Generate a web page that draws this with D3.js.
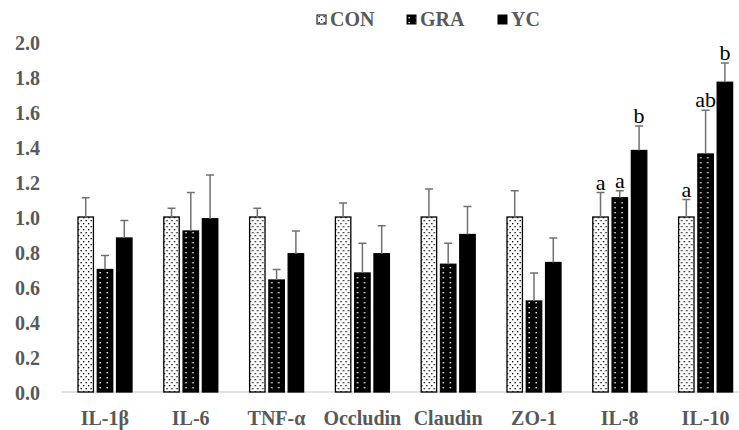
<!DOCTYPE html>
<html>
<head>
<meta charset="utf-8">
<script src="https://cdn.jsdelivr.net/npm/d3@7"></script>
<style>
  html, body { margin: 0; padding: 0; background: #fff; }
  svg { display: block; }
</style>
</head>
<body>
<svg id="chart" width="739" height="430"></svg>
<script>
// data
let categories = ["IL-1β", "IL-6", "TNF-α", "Occludin", "Claudin", "ZO-1", "IL-8", "IL-10"];
let seriesNames = ["CON", "GRA", "YC"];
let conValues = [1.00, 1.00, 1.00, 1.00, 1.00, 1.00, 1.00, 1.00];
let graValues = [0.70, 0.92, 0.64, 0.68, 0.73, 0.52, 1.11, 1.36];
let ycValues  = [0.88, 0.99, 0.79, 0.79, 0.90, 0.74, 1.38, 1.77];
let conErr = [0.11, 0.05, 0.05, 0.08, 0.16, 0.15, 0.14, 0.10];
let graErr = [0.08, 0.22, 0.06, 0.17, 0.12, 0.16, 0.04, 0.25];
let ycErr  = [0.10, 0.25, 0.13, 0.16, 0.16, 0.14, 0.14, 0.11];
let conLetters = ["", "", "", "", "", "", "a", "a"];
let graLetters = ["", "", "", "", "", "", "a", "ab"];
let ycLetters  = ["", "", "", "", "", "", "b", "b"];
let yTicks = [0, 0.2, 0.4, 0.6, 0.8, 1.0, 1.2, 1.4, 1.6, 1.8, 2.0];

let textColor = "#595959";
let serif = "'Liberation Serif', 'Times New Roman', serif";

let svg = d3.select("#chart");

// patterns for the two dotted series
let defs = svg.append("defs");
let pCon = defs.append("pattern")
    .attr("id", "patCon")
    .attr("patternUnits", "userSpaceOnUse")
    .attr("width", 5).attr("height", 6);
pCon.append("rect").attr("width", 5).attr("height", 6).style("fill", "#fff");
pCon.append("rect").attr("x", 1).attr("y", 1).attr("width", 1.3).attr("height", 1.3).style("fill", "#000");
pCon.append("rect").attr("x", 3.5).attr("y", 4).attr("width", 1.3).attr("height", 1.3).style("fill", "#000");

let pGra = defs.append("pattern")
    .attr("id", "patGra")
    .attr("patternUnits", "userSpaceOnUse")
    .attr("width", 7).attr("height", 5);
pGra.append("rect").attr("width", 7).attr("height", 5).style("fill", "#000");
pGra.append("rect").attr("x", 2.5).attr("y", 2).attr("width", 1.4).attr("height", 1.4).style("fill", "#fff");

let fills = { CON: "url(#patCon)", GRA: "url(#patGra)", YC: "#000" };

let rows = categories.map((c, i) => ({
    cat: c,
    bars: [
        { s: "CON", v: conValues[i], e: conErr[i], t: conLetters[i] },
        { s: "GRA", v: graValues[i], e: graErr[i], t: graLetters[i] },
        { s: "YC",  v: ycValues[i],  e: ycErr[i],  t: ycLetters[i] }
    ]
}));

let x0 = d3.scaleBand()
    .domain(categories)
    .range([62, 62 + 85.8 * categories.length])
    .padding(0);
let x1 = d3.scaleBand()
    .domain(seriesNames)
    .range([16, 70])
    .paddingInner(0.2);
let y = d3.scaleLinear()
    .domain([0, 2])
    .range([392, 42]);

// y tick labels only (no axis line)
let yAxis = svg.append("g")
    .attr("transform", "translate(42,0)")
    .call(d3.axisLeft(y).tickValues(yTicks).tickFormat(d3.format(".1f")).tickSize(0).tickPadding(2));
yAxis.select(".domain").remove();
yAxis.selectAll("text")
    .attr("dy", "0.38em")
    .style("font-family", serif)
    .style("font-weight", "bold")
    .style("font-size", "20px")
    .style("fill", textColor);

// baseline
svg.append("line")
    .attr("x1", 62).attr("x2", 739)
    .attr("y1", y(0)).attr("y2", y(0))
    .style("stroke", "#d9d9d9")
    .style("stroke-width", 1.5);

let groups = svg.selectAll(".grp")
    .data(rows)
    .enter()
    .append("g")
    .attr("class", "grp")
    .attr("transform", d => "translate(" + x0(d.cat) + ",0)");

// bars
groups.selectAll(".bar")
    .data(d => d.bars)
    .enter()
    .append("rect")
    .attr("class", "bar")
    .attr("x", d => x1(d.s))
    .attr("y", d => y(d.v))
    .attr("width", x1.bandwidth())
    .attr("height", d => y(0) - y(d.v))
    .style("fill", d => fills[d.s])
    .style("stroke", "#000")
    .style("stroke-width", 1.3);

// error bars
groups.selectAll(".err")
    .data(d => d.bars)
    .enter()
    .append("line")
    .attr("x1", d => x1(d.s) + x1.bandwidth() / 2)
    .attr("x2", d => x1(d.s) + x1.bandwidth() / 2)
    .attr("y1", d => y(d.v))
    .attr("y2", d => y(d.v + d.e))
    .style("stroke", "#707070")
    .style("stroke-width", 1.5);
groups.selectAll(".cap")
    .data(d => d.bars)
    .enter()
    .append("line")
    .attr("x1", d => x1(d.s) + x1.bandwidth() / 2 - 4)
    .attr("x2", d => x1(d.s) + x1.bandwidth() / 2 + 4)
    .attr("y1", d => y(d.v + d.e))
    .attr("y2", d => y(d.v + d.e))
    .style("stroke", "#707070")
    .style("stroke-width", 1.5);

// significance letters
groups.selectAll(".sig")
    .data(d => d.bars.filter(b => b.t !== ""))
    .enter()
    .append("text")
    .attr("x", d => x1(d.s) + x1.bandwidth() / 2)
    .attr("y", d => y(d.v + d.e) - 3)
    .attr("text-anchor", "middle")
    .text(d => d.t)
    .style("font-family", serif)
    .style("font-size", "22px")
    .style("fill", "#000");

// category labels
svg.selectAll(".cat")
    .data(categories)
    .enter()
    .append("text")
    .attr("x", d => x0(d) + x0.bandwidth() / 2)
    .attr("y", 425)
    .attr("text-anchor", "middle")
    .text(d => d)
    .style("font-family", serif)
    .style("font-weight", "bold")
    .style("font-size", "20px")
    .style("fill", textColor);

// legend
let legendX = [317, 407, 498];
seriesNames.forEach((s, i) => {
    svg.append("rect")
        .attr("x", legendX[i]).attr("y", 15)
        .attr("width", 9).attr("height", 9)
        .style("fill", fills[s])
        .style("stroke", "#000")
        .style("stroke-width", 1);
    svg.append("text")
        .attr("x", legendX[i] + 13)
        .attr("y", 26)
        .text(s)
        .style("font-family", serif)
        .style("font-weight", "bold")
        .style("font-size", "20px")
        .style("fill", textColor);
});
</script>
</body>
</html>
